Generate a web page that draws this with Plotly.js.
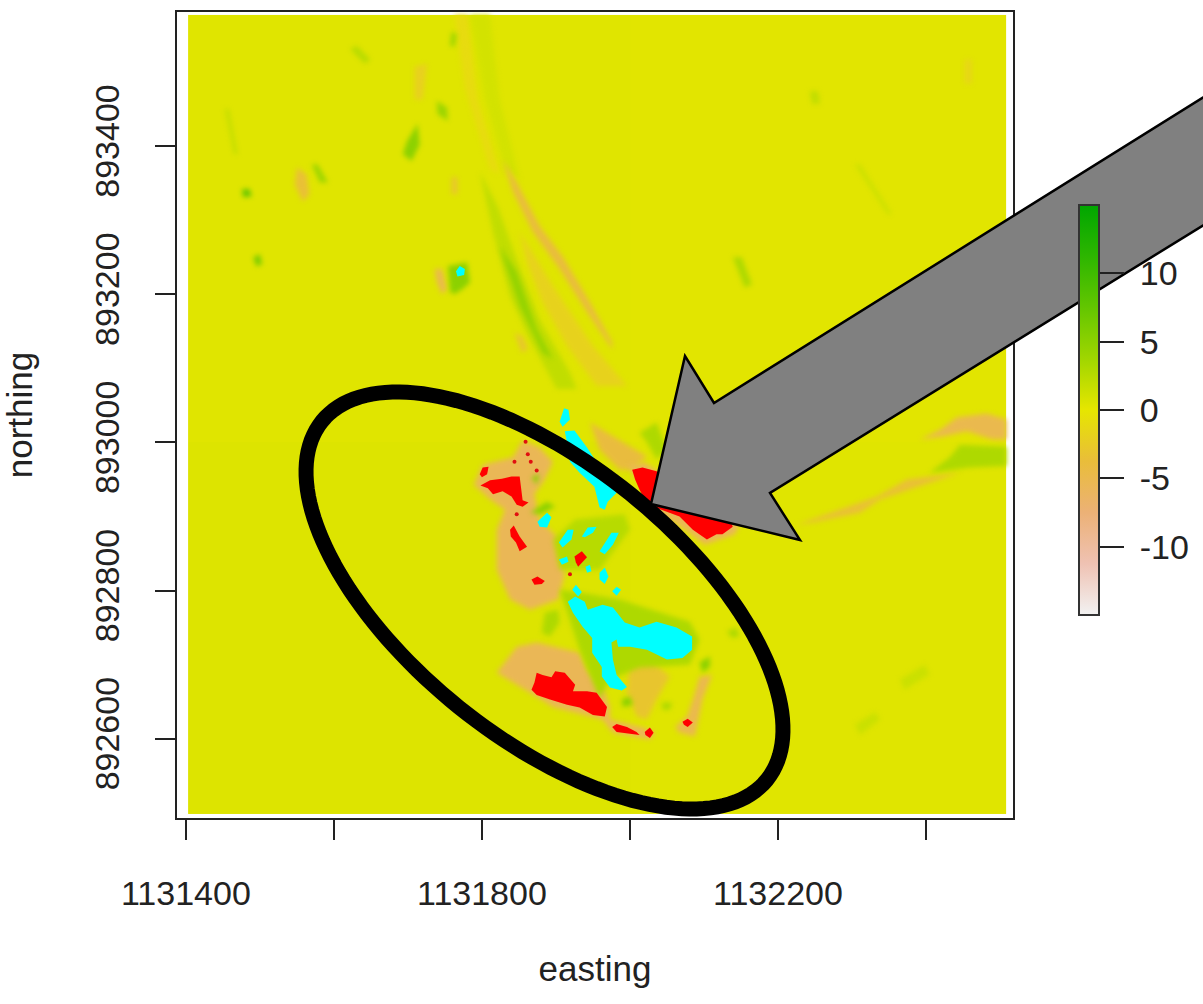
<!DOCTYPE html>
<html>
<head>
<meta charset="utf-8">
<script src="https://cdn.plot.ly/plotly-3.0.1.min.js"></script>
<style>html,body{margin:0;padding:0;background:#fff}#chart{width:1203px;height:1004px}</style>
</head>
<body>
<div id="chart"></div>
<script>
// Map coordinates are stored as metres above these bases
const eastBase = 1131000;
const northBase = 892000;

// Elevation change surface: background cells
const gridEast = [403, 1000, 1508];
const gridNorth = [499, 1000, 1577];
const gridValue = [[0.5, 0.3], [0.3, 0.2]];

// Soft patches, value in colourbar units
const patchValue = [-1, 1, -1.8, 2, 4.5, -4, 3,
  -5.5, -5.5, -3, -5, -4, -5.5, -5, -3.5, 3,
  3, 5, 5, 3, 3, 5, 5, 2.5, 3,
  -3.5, -2, -5, -3, 2.5, 4, 7, 6, 5, 4, 4, 3, -1.5, 2, 1.5, 2, 5, -3, 1.5, 1.5];
const patchEast = [
  [763,781,794,824,811,777],
  [784,811,824,851,831,804],
  [851,896,950,996,955,915,882,861],
  [797,821,847,878,919,928,901,865,838,815],
  [824,847,874,896,882,851,834],
  [828,847,878,909,946,976,976,942,905,869,842],
  [1013,1036,1050,1036,1023],
  [789,801,842,855,878,896,885,871,878,905,912,903,865,838,820,820,831,811],
  [820,847,874,932,942,963,973,973,1017,1034,1027,977,963,896,865],
  [1000,1027,1054,1036,1023,1009,996],
  [1094,1111,1098,1088,1067,1061,1077,1085],
  [946,1023,1002,986,959],
  [997,1020,1094,1148,1142,1101,1074,1040],
  [1392,1419,1442,1482,1509,1509,1490,1455,1423],
  [1225,1270,1334,1374,1446,1392,1338,1311,1247],
  [1405,1432,1446,1509,1509,1459],
  [905,946,986,1081,1094,1081,1013,973,959,932],
  [1094,1108,1108,1098],
  [989,1000,1004,990],
  [1043,1057,1054,1044],
  [1131,1144,1148,1138],
  [867,878,874],
  [865,888,899,878],
  [896,926,993,1000,959,905],
  [885,903,905,892,881],
  [550,563,567,558,547],
  [709,726,720,709],
  [736,746,753,746,739],
  [759,767,767,759],
  [622,631,649,642],
  [570,578,592,581],
  [476,486,489,477],
  [491,500,503,495],
  [699,713,716,705,693],
  [759,766,763,757],
  [739,753,754,740],
  [1139,1151,1165,1155],
  [1452,1462,1462,1452],
  [1243,1254,1257,1246],
  [1304,1311,1354,1348],
  [453,458,470,465],
  [754,780,784,774,763,757],
  [844,855,862,854],
  [1304,1331,1338,1311],
  [1365,1398,1405,1371]
];
const patchNorth = [
  [1577,1577,1463,1362,1369,1477],
  [1577,1577,1463,1355,1369,1463],
  [1284,1211,1130,1076,1076,1130,1189,1243],
  [1365,1319,1247,1166,1094,1072,1072,1139,1197,1284],
  [1265,1230,1153,1112,1121,1184,1234],
  [1382,1351,1292,1251,1189,1135,1126,1176,1234,1284,1338],
  [1013,1027,990,977,1000],
  [943,970,980,1003,993,974,950,930,896,869,822,788,774,788,828,882,909,923],
  [689,724,730,716,693,670,643,626,615,608,599,608,626,643,662],
  [711,707,684,653,626,630,662],
  [684,686,653,603,608,616,630,653],
  [1027,981,963,963,990],
  [969,973,923,889,876,862,882,905],
  [1004,1017,1034,1039,1031,1004,1004,1015,1008],
  [889,905,927,950,959,941,923,905,892],
  [959,980,997,994,968,966],
  [801,795,788,758,734,700,696,680,653,720],
  [703,711,697,689],
  [653,657,646,643],
  [649,649,639,639],
  [745,750,738,736],
  [953,957,943],
  [905,920,913,903],
  [869,896,903,882,828,828],
  [770,774,757,738,743],
  [1371,1362,1335,1325,1348],
  [1507,1511,1463,1463],
  [1234,1234,1207,1200,1216],
  [1358,1358,1335,1335],
  [1531,1535,1517,1511],
  [1375,1375,1351,1351],
  [1342,1342,1332,1331],
  [1250,1254,1240,1238],
  [1407,1430,1402,1380,1389],
  [1554,1551,1534,1535],
  [1461,1452,1434,1443],
  [1250,1250,1213,1209],
  [1517,1517,1484,1484],
  [1474,1474,1457,1457],
  [1375,1375,1308,1308],
  [1450,1450,1389,1389],
  [1238,1243,1216,1207,1200,1203],
  [1148,1143,1126,1121],
  [619,636,626,605],
  [680,700,687,666]
];

// Below-range (red) patches
const lowEast = [
  [798,811,827,840,851,853,855,863,855,847,840,828,815,808],
  [797,801,809,807,800],
  [838,843,851,861,851,846,839],
  [925,935,942,930,927],
  [1003,1017,1036,1067,1135,1139,1125,1117,1104,1085,1067,1044,1024,1013,1007],
  [874,882,894,899,912,926,923,942,955,969,966,950,932,915,892,874,867,871],
  [976,982,996,1009,1013,996,982],
  [1020,1027,1032,1027,1021],
  [1071,1078,1085,1078,1073],
  [867,875,885,881,871]
];
const lowNorth = [
  [942,949,951,954,954,936,922,919,913,916,927,934,930,938],
  [957,966,967,957,953],
  [882,888,873,859,853,865,873],
  [846,853,845,832,838],
  [963,966,961,936,896,886,876,876,869,882,900,909,916,936,950],
  [689,686,683,691,689,673,664,664,662,643,630,632,642,646,653,659,666,676],
  [616,620,616,609,605,607,609],
  [609,615,608,601,605],
  [623,627,622,616,619],
  [815,819,813,809,808]
];
const lowDotEast = [859,862,866,874,844,847,919];
const lowDotNorth = [1001,984,974,962,974,903,822];

// Above-range (cyan) patches
const highEast = [
  [905,911,917,919,909],
  [912,925,942,982,970,966,959,952,932,919,916],
  [875,888,894,888,878],
  [904,916,924,921,909],
  [935,943,955,950,939],
  [959,975,985,977,966],
  [904,915,917,908],
  [940,946,948,942],
  [959,966,971,966,959],
  [976,982,988,982],
  [922,927,935,930],
  [916,926,939,943,963,977,993,1013,1036,1063,1084,1084,1071,1050,1023,1000,984,982,975,977,982,996,989,973,962,962,949,949,936,923],
  [765,770,777,776,767]
];
const highNorth = [
  [1028,1046,1044,1031,1021],
  [1015,1016,993,932,920,909,912,940,959,974,994],
  [893,905,899,885,886],
  [865,882,882,869,858],
  [873,885,886,878,872],
  [853,878,878,862,849],
  [842,846,839,835],
  [832,835,826,824],
  [824,831,819,809,815],
  [799,805,801,793],
  [801,808,798,792],
  [785,792,785,774,781,777,757,750,758,750,738,720,709,707,720,724,724,734,730,707,686,670,665,669,684,697,716,736,751,770],
  [1231,1238,1234,1226,1224]
];

// Axis ticks
const eastTicks = [1131400,1131600,1131800,1132000,1132200,1132400];
const eastTickText = ['1131400','','1131800','','1132200',''];
const northTicks = [892600,892800,893000,893200,893400];
const northTickText = ['892600','892800','893000','893200','893400'];
const barTicks = [-10,-5,0,5,10];
const barTickText = ['\u00a0-10','\u00a0-5','\u00a00','\u00a05','\u00a010'];

// Terrain colour ramp
const rampValue = [-15,-11.25,-7.5,-3.75,0,3.75,7.5,11.25,15];
const rampRed = [242,239,236,233,230,160,99,45,0];
const rampGreen = [242,194,177,189,230,214,198,182,166];
const rampBlue = [242,179,118,58,0,0,0,0,0];
const colorscale = rampValue.map((v,i)=>[(v+15)/30,`rgb(${rampRed[i]},${rampGreen[i]},${rampBlue[i]})`]);
function valueColor(v){
  let i=0; while(i<rampValue.length-2 && v>rampValue[i+1]) i++;
  const t=(v-rampValue[i])/(rampValue[i+1]-rampValue[i]);
  const m=a=>Math.round(a[i]+(a[i+1]-a[i])*t);
  return `rgb(${m(rampRed)},${m(rampGreen)},${m(rampBlue)})`;
}
const addE = a=>a.map(v=>v+eastBase);
const addN = a=>a.map(v=>v+northBase);
const polygon = (xs,ys,color)=>({type:'scatter',mode:'lines',x:addE(xs),y:addN(ys),fill:'toself',
  fillcolor:color,line:{width:0,color:color},hoverinfo:'skip',showlegend:false});

const traces = [{
  type:'heatmap',x:addE(gridEast),y:addN(gridNorth),z:gridValue,zmin:-15,zmax:15,zsmooth:false,
  colorscale:colorscale,hoverinfo:'skip',
  colorbar:{thickness:20,thicknessmode:'pixels',len:409.5,lenmode:'pixels',
    x:(1079-177)/836,xanchor:'left',xpad:0,y:(818-615)/806,yanchor:'bottom',ypad:0,
    outlinecolor:'#333',outlinewidth:2,borderwidth:0,
    tickmode:'array',tickvals:barTicks,ticktext:barTickText,ticks:'outside',ticklen:24,tickwidth:2,tickcolor:'#222',
    tickfont:{family:'Liberation Sans',size:34,color:'#222'}}
}];
patchValue.forEach((v,i)=>traces.push(polygon(patchEast[i],patchNorth[i],valueColor(v))));
const softCount = patchValue.length;
lowEast.forEach((e,i)=>traces.push(polygon(e,lowNorth[i],'#ff0000')));
highEast.forEach((e,i)=>traces.push(polygon(e,highNorth[i],'#00ffff')));
traces.push({type:'scatter',mode:'markers',x:addE(lowDotEast),y:addN(lowDotNorth),
  marker:{color:'#e01010',size:4},hoverinfo:'skip',showlegend:false});

// Overlay drawn on the picture: page position to paper fraction
const L=177,R=1013,T=12,B=818;
const px=x=>(x-L)/(R-L), py=y=>(B-y)/(B-T);
const pathOf=pts=>'M'+pts.map(p=>px(p[0]).toFixed(5)+','+py(p[1]).toFixed(5)).join(' L')+' Z';
const arrowOutline=[[1215,90],[714,403],[685,356],[651,504],[800,540],[770,493],[1215,218]];
const ellipseCentre=[544.5,600.5], ellipseA=285.7, ellipseB=136.8, ellipseTilt=38.85*Math.PI/180;
const ellipsePts=[];
for(let k=0;k<160;k++){const t=k/160*2*Math.PI;
  const u=ellipseA*Math.cos(t),v=ellipseB*Math.sin(t);
  ellipsePts.push([ellipseCentre[0]+u*Math.cos(ellipseTilt)-v*Math.sin(ellipseTilt),
                   ellipseCentre[1]+u*Math.sin(ellipseTilt)+v*Math.cos(ellipseTilt)]);}

const tickFont={family:'Liberation Sans',size:34,color:'#222'};
const titleFont={family:'Liberation Sans',size:35,color:'#222'};
const layout={
  width:1203,height:1004,margin:{l:L,r:1203-R,t:T,b:1004-B,pad:0},
  paper_bgcolor:'#fff',plot_bgcolor:'#fff',showlegend:false,
  xaxis:{range:[1131388,1132517.6],tickmode:'array',tickvals:eastTicks,ticktext:eastTickText,
    ticks:'outside',ticklen:20,tickwidth:2,tickcolor:'#222',showgrid:false,zeroline:false,
    showline:true,mirror:true,linecolor:'#222',linewidth:2,tickfont:tickFont,tickangle:0,ticklabelstandoff:24,
    title:{text:'easting',font:titleFont,standoff:46}},
  yaxis:{range:[892493,893581],tickmode:'array',tickvals:northTicks,ticktext:northTickText,
    ticks:'outside',ticklen:20,tickwidth:2,tickcolor:'#222',showgrid:false,zeroline:false,
    showline:true,mirror:true,linecolor:'#222',linewidth:2,tickfont:tickFont,tickangle:-90,ticklabelstandoff:22,
    title:{text:'northing',font:titleFont,standoff:46}},
  shapes:[
    {type:'path',xref:'paper',yref:'paper',path:pathOf(ellipsePts),line:{color:'#000',width:15},fillcolor:'rgba(0,0,0,0)',layer:'above'},
    {type:'path',xref:'paper',yref:'paper',path:pathOf(arrowOutline),line:{color:'#000',width:2.5},fillcolor:'#808080',layer:'above'}
  ]
};
Plotly.newPlot('chart',traces,layout,{displayModeBar:false,staticPlot:true}).then(()=>{
  document.querySelectorAll('.scatterlayer .trace').forEach((el,i)=>{
    el.style.filter = i<softCount ? 'blur(2.5px)' : 'blur(0.7px)';
  });
});
</script>
</body>
</html>
